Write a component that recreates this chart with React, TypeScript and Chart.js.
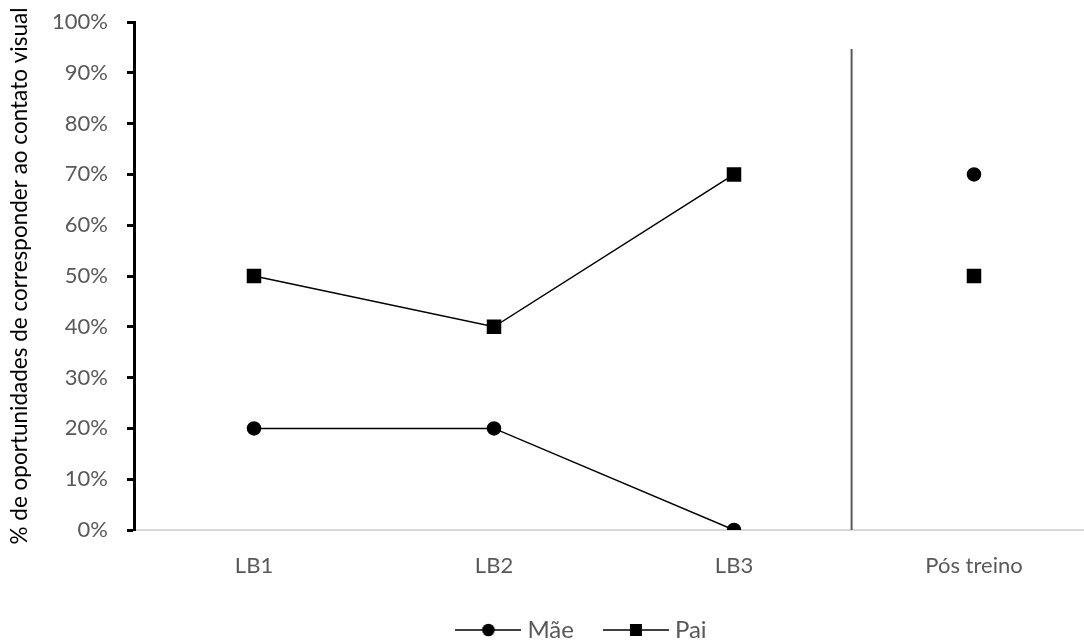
import { useEffect, useRef } from "react";
import { Chart, registerables } from "chart.js";

Chart.register(...registerables);

// Phases of the study (x categories)
const phases = ["LB1", "LB2", "LB3", "Pós treino"];
// % of opportunities to respond to eye contact, per parent
const maeValues = [20, 20, 0, 70];
const paiValues = [50, 40, 70, 50];
const seriesNames = ["Mãe", "Pai"];
const yAxisTitle = "% de oportunidades de corresponder ao contato visual";

// Phase-change line between baseline (LB3) and post-training
const phaseChangeAt = 2.49;
const phaseChangeTop = 94.7;

const FONT = "Lato, 'Liberation Sans', sans-serif";
const TICK_COLOR = "#595959";
const LEGEND_SHIFT_X = 37;
const LEGEND_SHIFT_Y = 8;

function makeLegendGlyph(kind: "circle" | "rect"): HTMLCanvasElement {
  const c = document.createElement("canvas");
  c.width = 66;
  c.height = 16;
  const g = c.getContext("2d")!;
  g.strokeStyle = "#000";
  g.lineWidth = 1.5;
  g.beginPath();
  g.moveTo(0, 8);
  g.lineTo(66, 8);
  g.stroke();
  g.fillStyle = "#000";
  if (kind === "circle") {
    g.beginPath();
    g.arc(33, 8, 6.3, 0, Math.PI * 2);
    g.fill();
  } else {
    g.fillRect(27, 2, 12, 12);
  }
  return c;
}

const phaseChangePlugin = {
  id: "phaseChange",
  afterLayout(chart: any) {
    // centre the legend under the full figure width
    const lg = chart.legend;
    if (lg) {
      lg.left += LEGEND_SHIFT_X;
      lg.right += LEGEND_SHIFT_X;
      lg.top += LEGEND_SHIFT_Y;
      lg.bottom += LEGEND_SHIFT_Y;
    }
  },
  afterDatasetsDraw(chart: any) {
    const { ctx, scales } = chart;
    const x = scales.x.getPixelForValue(phaseChangeAt);
    const y0 = scales.y.getPixelForValue(0);
    const y1 = scales.y.getPixelForValue(phaseChangeTop);
    ctx.save();
    ctx.strokeStyle = "#595959";
    ctx.lineWidth = 2;
    ctx.beginPath();
    ctx.moveTo(x, y0);
    ctx.lineTo(x, y1);
    ctx.stroke();
    ctx.restore();
  },
};

export default function App() {
  const canvasRef = useRef<HTMLCanvasElement>(null);

  useEffect(() => {
    if (!canvasRef.current) return;
    const glyphs = [makeLegendGlyph("circle"), makeLegendGlyph("rect")];
    // the post-training point stands alone, not joined to LB3
    const hideJoin = (ctx: any) => (ctx.p1DataIndex === 3 ? "rgba(0,0,0,0)" : "#000");

    const chart = new Chart(canvasRef.current, {
      type: "line",
      data: {
        labels: phases,
        datasets: [
          {
            label: seriesNames[0],
            data: maeValues,
            borderColor: "#000",
            backgroundColor: "#000",
            borderWidth: 1.5,
            pointStyle: "circle",
            pointRadius: 6.5,
            pointHoverRadius: 6.5,
            segment: { borderColor: hideJoin },
          },
          {
            label: seriesNames[1],
            data: paiValues,
            borderColor: "#000",
            backgroundColor: "#000",
            borderWidth: 1.5,
            pointStyle: "rect",
            pointRadius: 9.2,
            pointHoverRadius: 9.2,
            segment: { borderColor: hideJoin },
          },
        ],
      },
      options: {
        animation: false,
        responsive: true,
        maintainAspectRatio: false,
        layout: { autoPadding: false, padding: { top: 22, right: 68, bottom: 0, left: 0 } },
        plugins: {
          tooltip: { enabled: false },
          legend: {
            position: "bottom",
            labels: {
              usePointStyle: true,
              pointStyleWidth: 54,
              padding: 35,
              color: TICK_COLOR,
              font: { family: FONT, size: 24 },
              generateLabels: (chart: any) =>
                chart.data.datasets.map((ds: any, i: number) => ({
                  text: ds.label,
                  fillStyle: "#000",
                  strokeStyle: "#000",
                  lineWidth: 0,
                  pointStyle: glyphs[i],
                  fontColor: TICK_COLOR,
                  hidden: false,
                  datasetIndex: i,
                })),
            },
          },
        },
        scales: {
          x: {
            type: "category",
            offset: true,
            afterFit: (scale: any) => {
              scale.height = 45;
            },
            grid: { display: false, drawTicks: false },
            border: { display: true, color: "#d9d9d9", width: 2 },
            ticks: {
              color: TICK_COLOR,
              font: { family: FONT, size: 22 },
              padding: 23,
              maxRotation: 0,
            },
          },
          y: {
            min: 0,
            max: 100,
            afterFit: (scale: any) => {
              scale.width = 134;
              scale.paddingTop = 0;
              scale.paddingBottom = 0;
            },
            grid: {
              display: true,
              drawOnChartArea: false,
              drawTicks: true,
              tickLength: 7,
              tickWidth: 3,
              color: "#000",
            },
            border: { display: true, color: "#000", width: 3 },
            ticks: {
              stepSize: 10,
              color: TICK_COLOR,
              font: { family: FONT, size: 22 },
              padding: 19,
              callback: (v: any) => `${v}%`,
            },
            title: {
              display: true,
              text: yAxisTitle,
              color: "#000",
              font: { family: FONT, size: 22.5 },
              padding: { top: 6, bottom: 0 },
            },
          },
        },
      },
      plugins: [phaseChangePlugin],
    });
    return () => chart.destroy();
  }, []);

  return (
    <div
      style={{
        position: "absolute",
        left: 0,
        top: 0,
        width: 1084,
        height: 644,
        overflow: "hidden",
        background: "#fff",
      }}
    >
      <div style={{ position: "relative", width: 1162, height: 644 }}>
        <canvas ref={canvasRef} />
      </div>
    </div>
  );
}
